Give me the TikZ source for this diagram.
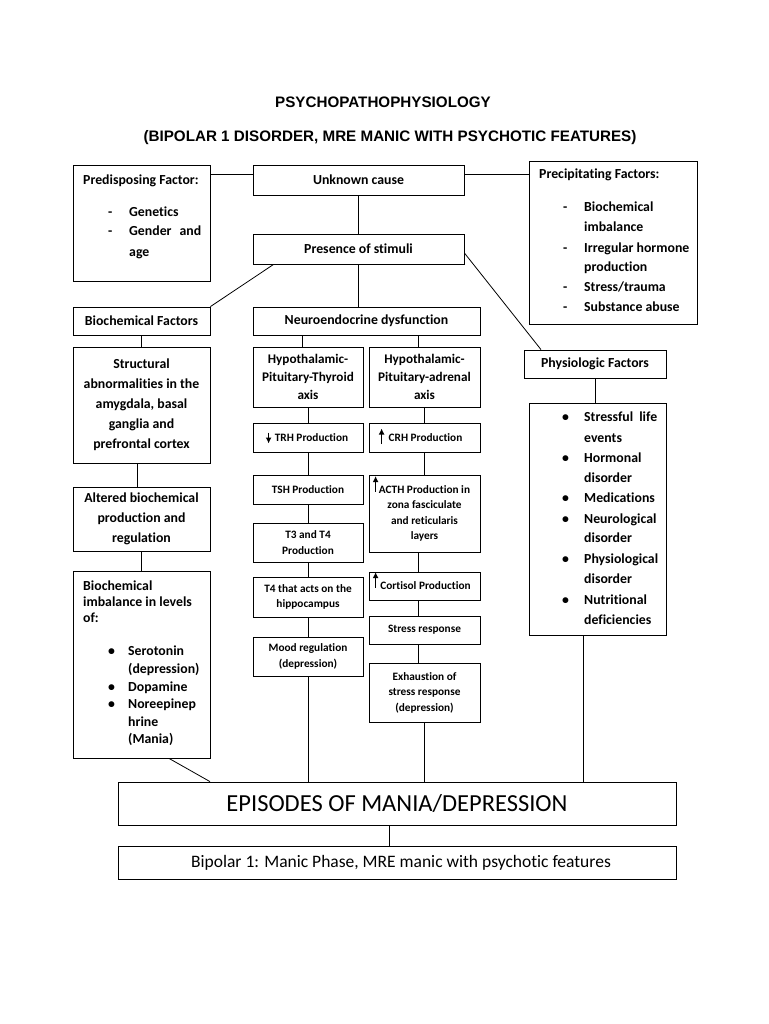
\documentclass[tikz,border=0pt]{standalone}
\usepackage{fontspec}
\setmainfont{Carlito}[Ligatures=NoCommon]
\newfontfamily\titlefont{Liberation Sans}
\usetikzlibrary{arrows.meta}
\tikzset{
  box/.style={draw, line width=0.8pt, inner sep=0pt, align=center, font=\bfseries\fontsize{13.8}{20}\selectfont},
  axisbox/.style={box, font=\bfseries\fontsize{13.2}{18}\selectfont},
  smallbox/.style={box, font=\bfseries\fontsize{11.3}{15.5}\selectfont},
  item/.style={anchor=base west, inner sep=0pt, font=\bfseries\fontsize{13.8}{20}\selectfont},
  headline/.style={anchor=base, inner sep=0pt, font=\titlefont\bfseries\fontsize{15.2}{18}\selectfont},
  link/.style={line width=0.8pt},
  updown/.style={line width=1.4pt, -{Latex[length=6pt,width=6pt]}}
}
\begin{document}
\begin{tikzpicture}[x=1pt,y=-1pt]
\useasboundingbox (0,0) rectangle (768,1024);
\fill[white] (0,0) rectangle (768,1024);
\node[headline] (title) at (383,108) {PSYCHOPATHOPHYSIOLOGY};
\node[headline] (subtitle) at (390,142) {(BIPOLAR 1 DISORDER, MRE MANIC WITH PSYCHOTIC FEATURES)};
\node[box, minimum width=137pt, minimum height=116pt] (pre) at (141.5,223) {};
\node[box, minimum width=211pt, minimum height=30pt] (unk) at (358.5,180) {Unknown cause};
\node[box, minimum width=168pt, minimum height=163pt] (prec) at (613,242.5) {};
\node[box, minimum width=211pt, minimum height=30pt] (stim) at (358.5,249) {Presence of stimuli};
\node[box, minimum width=137pt, minimum height=28pt] (biof) at (141.5,321) {Biochemical Factors};
\node[box, minimum width=227pt, minimum height=28pt] (neuro) at (366.5,321) {Neuroendocrine dysfunction};
\node[box, minimum width=142pt, minimum height=28pt] (phys) at (595,364) {Physiologic Factors};
\node[box, minimum width=137pt, minimum height=116pt] (struct) at (141.5,405) {Structural\\abnormalities in the\\amygdala, basal\\ganglia and\\prefrontal cortex};
\node[box, minimum width=137pt, minimum height=64pt] (alt) at (141.5,519) {Altered biochemical\\production and\\regulation};
\node[box, minimum width=137pt, minimum height=187pt] (imb) at (141.5,664.5) {};
\node[box, minimum width=137pt, minimum height=232pt] (physlist) at (597.5,519) {};
\node[axisbox, minimum width=110pt, minimum height=60pt] (hpt) at (308,377) {Hypothalamic-\\Pituitary-Thyroid\\axis};
\node[axisbox, minimum width=111pt, minimum height=60pt] (hpa) at (424.5,377) {Hypothalamic-\\Pituitary-adrenal\\axis};
\node[smallbox, minimum width=110pt, minimum height=29pt] (trh) at (308,437.5) {\hspace{7pt}TRH Production};
\node[smallbox, minimum width=111pt, minimum height=29pt] (crh) at (424.5,437.5) {\hspace{2pt}CRH Production};
\node[smallbox, minimum width=110pt, minimum height=29pt] (tsh) at (308,489.5) {TSH Production};
\node[smallbox, minimum width=111pt, minimum height=77pt] (acth) at (424.5,513.5) {ACTH Production in\\zona fasciculate\\and reticularis\\layers};
\node[smallbox, minimum width=110pt, minimum height=39pt] (t34) at (308,542.5) {T3 and T4\\Production};
\node[smallbox, minimum width=111pt, minimum height=28pt] (cort) at (424.5,586) {\hspace{2pt}Cortisol Production};
\node[smallbox, minimum width=110pt, minimum height=40pt] (t4) at (308,597) {T4 that acts on the\\hippocampus};
\node[smallbox, minimum width=111pt, minimum height=28pt] (stress) at (424.5,630) {Stress response};
\node[smallbox, minimum width=110pt, minimum height=39pt] (mood) at (308,656.5) {Mood regulation\\(depression)};
\node[smallbox, minimum width=111pt, minimum height=59pt] (exh) at (424.5,692.5) {Exhaustion of\\stress response\\(depression)};
\node[box, minimum width=558pt, minimum height=43pt, font=\fontsize{24.5}{28}\selectfont] (epi) at (397,803.5) {EPISODES OF MANIA/DEPRESSION};
\node[box, minimum width=558pt, minimum height=33pt, font=\fontsize{17.5}{20}\selectfont] (bip) at (397,862.5) {\hspace{8pt}Bipolar 1: Manic Phase, MRE manic with psychotic features};
\node[item] (pre-t) at (83,185) {Predisposing Factor:};
\foreach \y [count=\i] in {216.5,236} \node[item] (pre-d\i) at (108,\y) {-};
\node[item] (pre-1) at (129,216.5) {Genetics};
\node[item] (pre-2) at (129,236) {\makebox[72pt][s]{Gender\hfill and}};
\node[item] (pre-3) at (129,256) {age};
\node[item] (prec-t) at (539,179) {Precipitating Factors:};
\foreach \y [count=\i] in {212,252,291,311} \node[item] (prec-d\i) at (563,\y) {-};
\foreach \y/\txt [count=\i] in {212/Biochemical, 232/imbalance, 252/Irregular hormone, 271/production, 291/{Stress/trauma}, 311/Substance abuse}
  \node[item] (prec-\i) at (584,\y) {\txt};
\node[item] (imb-t1) at (83,590) {Biochemical};
\node[item] (imb-t2) at (83,606) {imbalance in levels};
\node[item] (imb-t3) at (83,622) {of:};
\foreach \y [count=\i] in {655,691,708} \node[item] (imb-b\i) at (108,\y) {•};
\foreach \y/\txt [count=\i] in {655/Serotonin, 673/(depression), 691/Dopamine, 708/Noreepinep, 726/hrine, 743/(Mania)}
  \node[item] (imb-\i) at (128,\y) {\txt};
\foreach \y [count=\i] in {421,462,502,523,563,604} \node[item] (phys-b\i) at (562,\y) {•};
\node[item] (phys-1) at (584,421) {\makebox[73pt][s]{Stressful\hfill life}};
\foreach \y/\txt [count=\i from 2] in {442/events, 462/Hormonal, 482/disorder, 502/Medications, 523/Neurological, 542/disorder, 563/Physiological, 583/disorder, 604/Nutritional, 624/deficiencies}
  \node[item] (phys-\i) at (584,\y) {\txt};
\draw[updown] ([xshift=16pt,yshift=5pt]trh.west) -- ([xshift=16pt,yshift=-6pt]trh.west);
\draw[updown] ([xshift=13pt,yshift=-6.5pt]crh.west) -- ([xshift=13pt,yshift=9pt]crh.west);
\draw[updown] ([xshift=7pt,yshift=-17pt]acth.north west) -- ([xshift=7pt,yshift=-1.5pt]acth.north west);
\draw[updown] ([xshift=7pt,yshift=-16pt]cort.north west) -- ([xshift=7pt,yshift=-0.5pt]cort.north west);
\draw[link] ([yshift=6pt]unk.west) -- ([yshift=6pt]unk.west -| pre.east);
\draw[link] ([yshift=6pt]unk.east) -- ([yshift=6pt]unk.east -| prec.west);
\draw[link] (unk.south) -- (stim.north);
\draw[link] ([xshift=21pt]stim.south west) -- (biof.north east);
\draw[link] (stim.south) -- (stim.south |- neuro.north);
\draw[link] ([yshift=-4pt]stim.east) -- ([xshift=-54pt]phys.north);
\draw[link] (biof.south) -- (struct.north);
\draw[link] ([xshift=-4pt]struct.south) -- ([xshift=-4pt]alt.north);
\draw[link] (alt.south) -- (imb.north);
\draw[link] ([xshift=-6pt]hpt.north) -- ([xshift=-6pt]hpt.north |- neuro.south);
\draw[link] ([xshift=-6pt]hpa.north) -- ([xshift=-6pt]hpa.north |- neuro.south);
\draw[link] (hpt.south) -- (trh.north);
\draw[link] (trh.south) -- (tsh.north);
\draw[link] (tsh.south) -- (t34.north);
\draw[link] (t34.south) -- (t4.north);
\draw[link] (t4.south) -- (mood.north);
\draw[link] (hpa.south) -- (crh.north);
\draw[link] (crh.south) -- (acth.north);
\draw[link] ([xshift=-6pt]acth.south) -- ([xshift=-6pt]cort.north);
\draw[link] ([xshift=-6pt]cort.south) -- ([xshift=-6pt]stress.north);
\draw[link] ([xshift=-6pt]stress.south) -- ([xshift=-6pt]exh.north);
\draw[link] (phys.south) -- (phys.south |- physlist.north);
\draw[link] ([xshift=27.5pt]imb.south) -- ([xshift=-187pt]epi.north);
\draw[link] (mood.south) -- (mood.south |- epi.north);
\draw[link] (exh.south) -- (exh.south |- epi.north);
\draw[link] ([xshift=-14pt]physlist.south) -- ([xshift=-14pt]physlist.south |- epi.north);
\draw[link] ([xshift=-8pt]epi.south) -- ([xshift=-8pt]bip.north);
\end{tikzpicture}
\end{document}
